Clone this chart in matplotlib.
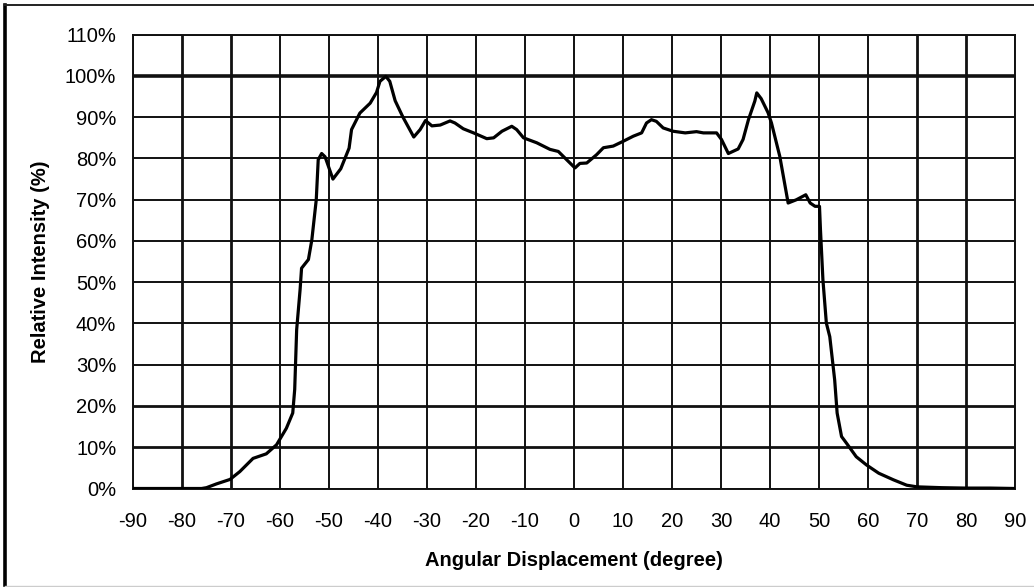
import numpy as np
import matplotlib
matplotlib.use('Agg')
import matplotlib.pyplot as plt
from matplotlib.lines import Line2D

# angular displacement (degree) and relative intensity (%)
angle = [-90, -80, -76, -75, -73, -70.2, -68.2, -65.5, -62.8, -60.7, -58.7, -57.4, -57.0,
         -56.6, -55.9, -55.6, -54.2, -53.5, -52.6, -52.2, -51.5, -50.8, -49.2, -47.6, -45.9,
         -45.4, -43.7, -41.6, -40.3, -39.6, -38.4, -37.6, -36.5, -34.9, -32.7, -31.4, -30.3,
         -29.0, -27.3, -25.3, -24.3, -22.6, -20.5, -17.8, -16.4, -14.7, -12.7, -11.7, -10.3,
         -7.6, -4.9, -3.2, -1.5, 0.2, 1.2, 2.6, 4.6, 6.0, 8.0, 10.1, 12.1, 13.8, 14.8, 15.8,
         16.8, 18.2, 20.2, 22.7, 25.0, 26.4, 29.1, 30.1, 31.5, 33.5, 34.5, 35.6, 36.9, 37.3,
         38.2, 39.6, 40.3, 42.0, 43.7, 45.4, 47.3, 48.2, 49.2, 50.1, 50.3, 50.8, 51.5, 52.2,
         53.2, 53.7, 54.6, 55.6, 57.6, 59.7, 62.2, 65.2, 67.9, 70, 75, 80, 85, 90]
intensity = [0, 0, 0, 0.2, 1.1, 2.2, 4.1, 7.3, 8.4, 10.6, 14.6, 18.3, 24,
             38.5, 48.2, 53.4, 55.5, 60.3, 70, 79.7, 81.2, 80.4, 75, 77.5, 82.5,
             87, 91, 93.4, 96, 98.7, 99.9, 98.7, 94, 90, 85.2, 87, 89.2,
             87.9, 88.1, 89.1, 88.6, 87.2, 86.2, 84.8, 85, 86.6, 87.8, 87, 85,
             83.8, 82.2, 81.7, 79.7, 77.7, 78.8, 78.9, 80.9, 82.6, 83, 84.2, 85.4, 86.2, 88.6, 89.4,
             89, 87.4, 86.6, 86.2, 86.5, 86.2, 86.2, 84.6, 81.2, 82.3, 84.6, 89.4, 93.9, 95.9,
             94.5, 91.1, 88.6, 80.5, 69.2, 70, 71.2, 69.2, 68.4, 68.4, 62.7, 50.6, 40.1, 36.8,
             26.3, 18.3, 12.6, 11, 7.7, 5.7, 3.7, 2.1, 0.8, 0.4, 0.2, 0.1, 0.1, 0]

x_ticks = list(range(-90, 91, 10))
y_ticks = list(range(0, 111, 10))

plt.rcParams['font.family'] = ['Liberation Sans', 'DejaVu Sans']
plt.rcParams['axes.unicode_minus'] = False

fig = plt.figure(figsize=(10.34, 5.87), dpi=100)
ax = fig.add_axes([133 / 1034, 1 - 488.5 / 587, (1015 - 133) / 1034, (488.5 - 34.7) / 587])

# grid, some lines heavier as in the source
for v in x_ticks:
    lw = 2.0 if v in (-80, -70, 70, 80) else 1.4
    ax.axvline(v, color='#111111', lw=lw, zorder=1)
for v in y_ticks:
    lw = 2.6 if v == 100 else (2.0 if v in (10, 20) else 1.4)
    ax.axhline(v, color='#111111', lw=lw, zorder=1)

ax.plot(angle, intensity, color='black', lw=2.3, zorder=3, solid_joinstyle='round')

ax.set_xlim(-90, 90)
ax.set_ylim(0, 110)
ax.set_xticks(x_ticks)
ax.set_yticks(y_ticks)
ax.set_xticklabels([str(v) for v in x_ticks])
ax.set_yticklabels([f'{v}%' for v in y_ticks])
ax.tick_params(length=0, labelsize=14.5)
ax.tick_params(axis='x', pad=17)
ax.tick_params(axis='y', pad=12)
for s in ax.spines.values():
    s.set_linewidth(1.4)
    s.set_color('#111111')

ax.set_xlabel('Angular Displacement (degree)', fontsize=14.5, weight='bold', labelpad=14)
ax.set_ylabel('Relative Intensity (%)', fontsize=14.5, weight='bold', labelpad=10.5)

# outer frame
fig.add_artist(Line2D([5 / 1034, 5 / 1034], [2 / 587, 1 - 5 / 587], transform=fig.transFigure, color='black', lw=2.6))
fig.add_artist(Line2D([5 / 1034, 1], [1 - 5 / 587, 1 - 5 / 587], transform=fig.transFigure, color='#222222', lw=1.4))
fig.add_artist(Line2D([5 / 1034, 1], [1.5 / 587, 1.5 / 587], transform=fig.transFigure, color='#cccccc', lw=1.0))

fig.savefig('out.png', dpi=100)
